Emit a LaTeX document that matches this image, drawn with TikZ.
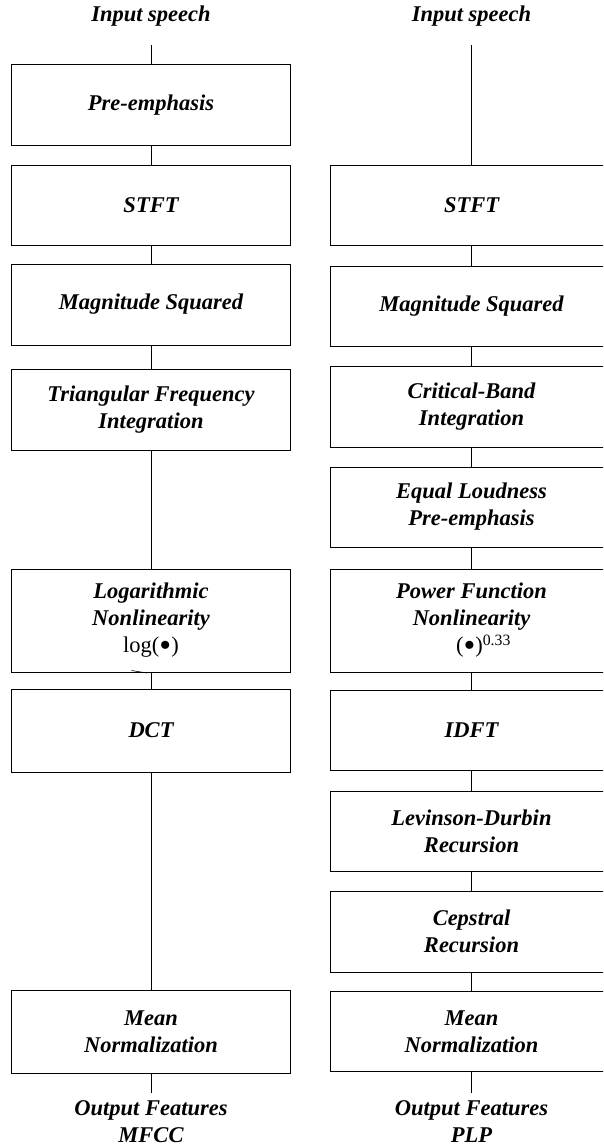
\documentclass[tikz,border=0pt]{standalone}
\usepackage{fontspec}
\setmainfont{Liberation Serif}
\tikzset{
  blk/.style={draw, line width=1pt, minimum width=279pt, minimum height=80pt,
    inner sep=0pt, outer sep=0pt, align=center,
    font=\fontsize{22.5}{27}\selectfont\bfseries\itshape},
  tall/.style={minimum height=103pt},
  lbl/.style={inner sep=0pt, align=center,
    font=\fontsize{22.5}{27}\selectfont\bfseries\itshape},
  link/.style={draw, line width=0.9pt}
}
\newcommand{\plain}[1]{{\mdseries\upshape #1}}
\newcommand{\bigdot}{\smash{\raisebox{-4pt}{\scalebox{1.5}{•}}}}
\begin{document}
\begin{tikzpicture}[x=1pt,y=-1pt]
                % 画像の大きさに合わせる
                \useasboundingbox (0,0) rectangle (603,1148);
                \clip (0,0) rectangle (603,1148);

                % 左の列 (MFCC)
                \node[lbl] (inL) at (151,16) {Input speech};
                \coordinate (inLend) at (151,45);
                \node[blk] (preL) at (151,105) {Pre-emphasis};
                \node[blk] (stftL) at (151,205) {STFT};
                \node[blk, minimum height=81pt] (magL) at (151,304.5) {Magnitude Squared};
                \node[blk, minimum height=81pt] (triL) at (151,409.5) {Triangular Frequency\\Integration};
                \node[blk, tall] (logL) at (151,620.5) {Logarithmic\\Nonlinearity\\\plain{log(\bigdot)}};
                \node[blk, minimum height=83pt] (dctL) at (151,730.5) {DCT};
                \node[blk, minimum height=83pt] (meanL) at (151,1031.5) {Mean\\Normalization};
                \coordinate (outLend) at (151,1093);
                \node[lbl] (outL) at (151,1122) {Output Features\\MFCC};

                % 左の列の線
                \foreach \a/\b in {inLend/preL, preL/stftL, stftL/magL, magL/triL,
                                   triL/logL, logL/dctL, dctL/meanL, meanL/outLend}
                    \path[link] (\a) -- (\b);

                % logの下の小さな斜線
                \draw[line width=0.6pt] (131.5,670.5) -- (147,673);

                % 右の列 (PLP)
                \node[lbl] (inR) at (471.5,16) {Input speech};
                \coordinate (inRend) at (471.5,45);
                \node[blk, minimum width=282pt] (stftR) at (471.5,205) {STFT};
                \node[blk, minimum width=282pt] (magR) at (471.5,306) {Magnitude Squared};
                \node[blk, minimum width=282pt, minimum height=81pt] (cbR) at (471.5,406.5) {Critical-Band\\Integration};
                \node[blk, minimum width=282pt] (elR) at (471.5,507) {Equal Loudness\\Pre-emphasis};
                \node[blk, minimum width=282pt, tall] (pwR) at (471.5,620.5) {Power Function\\Nonlinearity\\\plain{\hspace*{24pt}(\bigdot)\textsuperscript{0.33}}};
                \node[blk, minimum width=282pt] (idftR) at (471.5,730.5) {IDFT};
                \node[blk, minimum width=282pt] (ldR) at (471.5,831) {Levinson-Durbin\\Recursion};
                \node[blk, minimum width=282pt, minimum height=81pt] (cepR) at (471.5,931.5) {Cepstral\\Recursion};
                \node[blk, minimum width=282pt] (meanR) at (471.5,1031.5) {Mean\\Normalization};
                \coordinate (outRend) at (471.5,1093);
                \node[lbl] (outR) at (471.5,1122) {Output Features\\PLP};

                % 右の列の線
                \foreach \a/\b in {inRend/stftR, stftR/magR, magR/cbR, cbR/elR, elR/pwR,
                                   pwR/idftR, idftR/ldR, ldR/cepR, cepR/meanR, meanR/outRend}
                    \path[link] (\a) -- (\b);
\end{tikzpicture}
\end{document}
